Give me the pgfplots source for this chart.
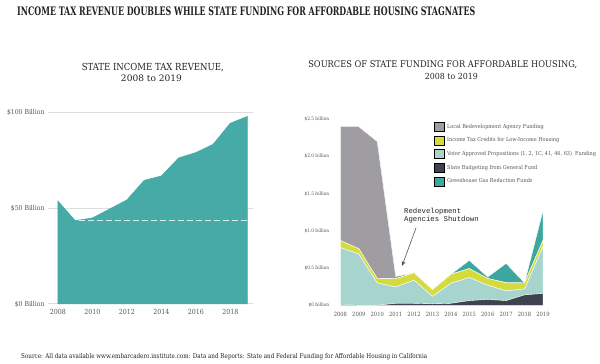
\documentclass[border=0pt]{standalone}
\usepackage{pgfplots}
\pgfplotsset{compat=1.18}
\usepackage{pgfplotstable}
\usetikzlibrary{arrows.meta}
\usepackage{fontspec}
\usepackage{graphicx}
\setmainfont{DejaVu Serif Condensed}
\newfontfamily\annofont{Liberation Mono}
\definecolor{leftteal}{HTML}{46ABA7}
\definecolor{dashcol}{HTML}{D6EFEC}
\definecolor{gridgray}{HTML}{DDDDDD}
\definecolor{rdagray}{HTML}{9F9DA2}
\definecolor{taxyellow}{HTML}{D5DB3C}
\definecolor{voterteal}{HTML}{A7D5CE}
\definecolor{budgetdark}{HTML}{3E4350}
\definecolor{ggrfteal}{HTML}{3BA79F}
\definecolor{titlecol}{HTML}{222222}
\definecolor{labcol}{HTML}{555555}

\pgfplotstableread{
year dark voter tax rda ggrf
2008 0.005 0.77 0.095 1.53 0
2009 0 0.69 0.07 1.64 0
2010 0 0.30 0.06 1.84 0
2011 0.027 0.22 0.11 0.03 0
2012 0.027 0.31 0.10 0 0
2013 0.02 0.10 0.09 0 0
2014 0.027 0.27 0.12 0 0
2015 0.063 0.31 0.12 0 0.11
2016 0.08 0.19 0.09 0 0.02
2017 0.063 0.13 0.11 0 0.26
2018 0.14 0.08 0.08 0 0
2019 0.16 0.63 0.08 0 0.40
}\fundtable

\begin{document}
\begin{tikzpicture}
\useasboundingbox (0pt,0pt) rectangle (600pt,364pt);

% titles
\node[anchor=base west, inner sep=0, text=titlecol] at (17pt,348pt) {\resizebox{458pt}{8.7pt}{\bfseries INCOME TAX REVENUE DOUBLES WHILE STATE FUNDING FOR AFFORDABLE HOUSING STAGNATES}};
\node[anchor=base, inner sep=0, text=titlecol] at (152.8pt,293.3pt) {\resizebox{142pt}{7.2pt}{STATE INCOME TAX REVENUE,}};
\node[anchor=base, inner sep=0, text=titlecol] at (151.5pt,282.3pt) {\resizebox{61pt}{6.6pt}{2008 to 2019}};
\node[anchor=base, inner sep=0, text=titlecol] at (442.8pt,296.7pt) {\resizebox{269pt}{6.8pt}{SOURCES OF STATE FUNDING FOR AFFORDABLE HOUSING,}};
\node[anchor=base, inner sep=0, text=titlecol] at (451.4pt,284pt) {\resizebox{53pt}{6.2pt}{2008 to 2019}};
\node[anchor=base west, inner sep=0, text=titlecol] at (21pt,5.7pt) {\resizebox{406pt}{5pt}{Source: All data available www.embarcadero.institute.com: Data and Reports: State and Federal Funding for Affordable Housing in California}};

% left chart
\begin{axis}[
  at={(48pt,60pt)}, anchor=south west, scale only axis,
  width=205pt, height=191.7pt,
  xmin=2007.42, xmax=2019.32, ymin=0, ymax=100,
  axis line style={draw=none}, major tick length=0pt,
  ymajorgrids, grid style={color=gridgray, line width=1pt},
  xtick={2008,2010,2012,2014,2016,2018},
  xticklabels={2008,2010,2012,2014,2016,2018},
  ytick={0,50,100},
  yticklabels={\$0 Billion,\$50 Billion,\$100 Billion},
  tick label style={font=\fontsize{6.8}{7}\selectfont, text=labcol},
  x tick label style={font=\fontsize{7}{8}\selectfont, yshift=-1.5pt},
  /pgf/number format/assume math mode=true,
  clip=false,
]
\addplot[fill=leftteal, draw=leftteal, line width=0.5pt] coordinates {
(2008,53.7) (2009,43.5) (2010,44.9) (2011,49.6) (2012,54.3) (2013,64.5)
(2014,66.8) (2015,76.2) (2016,79.0) (2017,83.3) (2018,94.3) (2019,97.9)
} \closedcycle;
\addplot[draw=dashcol, line width=1pt, dash pattern=on 6pt off 3pt] coordinates {(2009.2,43.5) (2019,43.5)};
\end{axis}

% right chart
\begin{axis}[
  at={(332.7pt,58.7pt)}, anchor=south west, scale only axis,
  width=218pt, height=186pt,
  xmin=2007.58, xmax=2019.42, ymin=0, ymax=2.5,
  axis line style={draw=none}, major tick length=0pt,
  xtick={2008,2009,2010,2011,2012,2013,2014,2015,2016,2017,2018,2019},
  xticklabels={2008,2009,2010,2011,2012,2013,2014,2015,2016,2017,2018,2019},
  ytick={0,0.5,1,1.5,2,2.5},
  yticklabels={\$0 billion,\$0.5 billion,\$1.0 billion,\$1.5 billion,\$2.0 billion,\$2.5 billion},
  tick label style={font=\fontsize{4.8}{5}\selectfont, text=labcol},
  x tick label style={font=\fontsize{5.8}{6}\selectfont, yshift=-3pt},
  /pgf/number format/assume math mode=true,
  stack plots=y,
  clip=false,
  legend image code/.code={\fill[#1] (0pt,-4.5pt) rectangle (10pt,4.5pt); \path (11.5pt,0pt);},
  legend style={at={(0.462,0.985)}, anchor=north west, draw=none, fill=none,
    font=\fontsize{5.5}{6}\selectfont, text=labcol, row sep=4.2pt, inner sep=0pt,
    nodes={inner sep=1.6pt}},
  legend cell align=left,
]
\addplot[fill=budgetdark, draw=white, line width=0.4pt, forget plot] table[x=year,y=dark] {\fundtable} \closedcycle;
\addplot[fill=voterteal, draw=white, line width=0.4pt, forget plot] table[x=year,y=voter] {\fundtable} \closedcycle;
\addplot[fill=taxyellow, draw=white, line width=0.4pt, forget plot] table[x=year,y=tax] {\fundtable} \closedcycle;
\addplot[fill=rdagray, draw=white, line width=0.4pt, forget plot] table[x=year,y=rda] {\fundtable} \closedcycle;
\addplot[fill=ggrfteal, draw=white, line width=0.4pt, forget plot] table[x=year,y=ggrf] {\fundtable} \closedcycle;
\addlegendimage{fill=rdagray}
\addlegendentry{Local Redevelopment Agency Funding}
\addlegendimage{fill=taxyellow}
\addlegendentry{Income Tax Credits for Low-Income Housing}
\addlegendimage{fill=voterteal}
\addlegendentry{Voter Approved Propositions (1, 2, 1C, 41, 46, 63)\ \ Funding}
\addlegendimage{fill=budgetdark}
\addlegendentry{State Budgeting from General Fund}
\addlegendimage{fill=ggrfteal}
\addlegendentry{Greenhouse Gas Reduction Funds}
\end{axis}

% annotation
\node[anchor=base west, inner sep=0, text=titlecol, font=\annofont\fontsize{7.3}{8}\selectfont] at (404pt,150pt) {Redevelopment};
\node[anchor=base west, inner sep=0, text=titlecol, font=\annofont\fontsize{7.3}{8}\selectfont] at (404pt,142pt) {Agencies Shutdown};
\draw[-{Stealth[length=5pt,width=4pt]}, labcol, line width=0.6pt] (416pt,136pt) -- (402pt,98pt);
\end{tikzpicture}
\end{document}
